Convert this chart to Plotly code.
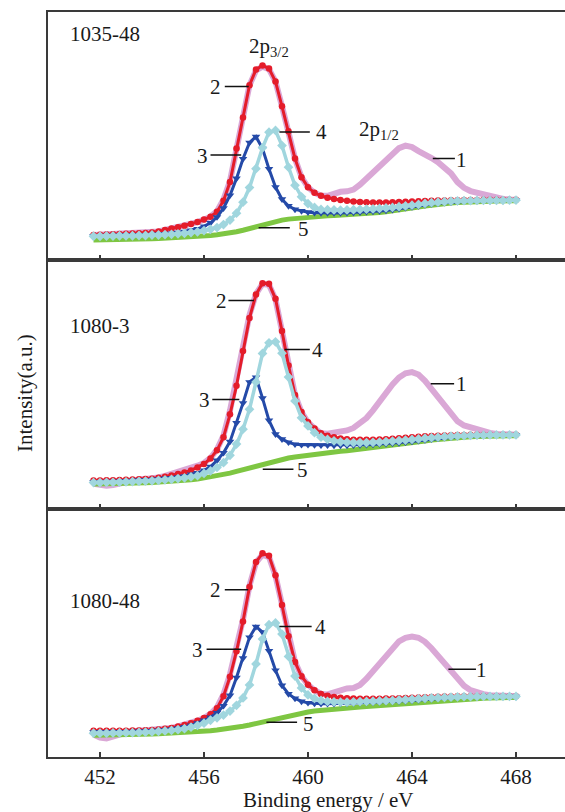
import plotly.graph_objects as go
from plotly.subplots import make_subplots

# Binding energy grid (eV)
energy = [451.75, 452.0, 452.25, 452.5, 452.75, 453.0, 453.25, 453.5, 453.75, 454.0,
          454.25, 454.5, 454.75, 455.0, 455.25, 455.5, 455.75, 456.0, 456.25, 456.5,
          456.75, 457.0, 457.25, 457.5, 457.75, 458.0, 458.25, 458.5, 458.75, 459.0,
          459.25, 459.5, 459.75, 460.0, 460.25, 460.5, 460.75, 461.0, 461.25, 461.5,
          461.75, 462.0, 462.25, 462.5, 462.75, 463.0, 463.25, 463.5, 463.75, 464.0,
          464.25, 464.5, 464.75, 465.0, 465.25, 465.5, 465.75, 466.0, 466.25, 466.5,
          466.75, 467.0, 467.25, 467.5, 467.75, 468.0]

panel_names = ["1035-48", "1080-3", "1080-48"]
tick_vals = [452, 456, 460, 464, 468]

# ---------------- sample 1035-48 ----------------
s1_curve1 = [10.2, 10.3, 10.4, 10.5, 10.6, 10.7, 10.8, 10.9, 11.0, 11.2,
             11.6, 12.2, 12.8, 13.3, 13.9, 14.6, 15.4, 16.4, 17.6, 19.8,
             24.5, 32.0, 45.5, 58.0, 70.5, 76.5, 78.0, 77.0, 72.0, 62.0,
             52.0, 41.0, 33.5, 29.4, 27.2, 26.0, 26.0, 27.0, 27.6, 27.8,
             28.5, 30.5, 33.0, 35.8, 38.5, 41.0, 43.3, 45.2, 46.2, 45.6,
             44.0, 42.8, 41.2, 39.5, 37.5, 35.0, 31.5, 29.2, 27.9, 27.2,
             26.5, 25.6, 25.0, 24.7, 24.5, 24.4]
s1_curve2 = [10.2, 10.3, 10.4, 10.5, 10.6, 10.7, 10.8, 10.9, 11.0, 11.2,
             11.6, 12.2, 12.8, 13.3, 13.9, 14.6, 15.4, 16.4, 17.6, 19.6,
             24.0, 31.5, 45.0, 57.5, 70.5, 76.8, 78.5, 77.2, 72.0, 62.0,
             52.0, 41.0, 33.5, 29.4, 27.2, 26.0, 25.2, 24.7, 24.3, 24.0,
             23.7, 23.5, 23.4, 23.3, 23.3, 23.3, 23.4, 23.5, 23.6, 23.7,
             23.8, 23.9, 24.0, 24.1, 24.1, 24.2, 24.2, 24.3, 24.3, 24.3,
             24.4, 24.4, 24.4, 24.4, 24.4, 24.4]
s1_curve3 = [9.8, 9.8, 9.9, 9.9, 10.0, 10.1, 10.1, 10.2, 10.2, 10.4,
             10.5, 10.7, 10.9, 11.2, 11.6, 12.1, 12.7, 13.7, 15.1, 17.4,
             21.0, 26.2, 33.0, 40.9, 47.4, 49.8, 45.0, 36.8, 29.5, 24.6,
             21.9, 20.5, 19.9, 19.4, 19.2, 19.1, 19.1, 19.1, 19.1, 19.2,
             19.3, 19.4, 19.6, 19.7, 19.9, 20.1, 20.4, 20.8, 21.2, 21.5,
             21.9, 22.3, 22.7, 23.0, 23.2, 23.4, 23.6, 23.7, 23.8, 23.9,
             23.9, 23.9, 24.0, 24.0, 24.1, 24.1]
s1_curve4 = [9.7, 9.7, 9.8, 9.8, 9.9, 9.9, 9.9, 10.0, 10.0, 10.2,
             10.2, 10.4, 10.5, 10.7, 10.9, 11.2, 11.5, 12.0, 12.5, 13.2,
             14.4, 16.2, 19.0, 23.4, 29.3, 36.9, 45.3, 51.6, 52.3, 46.2,
             37.5, 30.2, 25.6, 22.8, 21.3, 20.5, 20.4, 20.3, 20.2, 20.3,
             20.4, 20.5, 20.6, 20.7, 20.9, 21.1, 21.3, 21.6, 21.9, 22.2,
             22.5, 22.9, 23.2, 23.4, 23.6, 23.8, 23.9, 24.0, 24.0, 24.1,
             24.1, 24.1, 24.1, 24.1, 24.2, 24.2]
s1_curve5 = [8.2, 8.2, 8.3, 8.3, 8.4, 8.4, 8.5, 8.5, 8.6, 8.7,
             8.8, 8.9, 9.0, 9.1, 9.3, 9.4, 9.6, 9.8, 10.0, 10.3,
             10.6, 11.0, 11.5, 12.1, 12.8, 13.6, 14.4, 15.1, 15.7, 16.2,
             16.6, 16.9, 17.2, 17.4, 17.6, 17.8, 17.9, 18.1, 18.2, 18.4,
             18.5, 18.7, 18.9, 19.1, 19.3, 19.6, 19.9, 20.3, 20.7, 21.1,
             21.5, 21.9, 22.3, 22.6, 22.9, 23.1, 23.3, 23.5, 23.6, 23.7,
             23.8, 23.8, 23.9, 23.9, 24.0, 24.0]

# ---------------- sample 1080-3 ----------------
s2_curve1 = [10.0, 9.4, 9.2, 9.5, 10.2, 10.8, 11.4, 11.8, 12.0, 12.2,
             12.6, 13.2, 13.9, 14.7, 15.6, 16.4, 17.3, 18.4, 20.4, 23.8,
             29.5, 39.5, 51.5, 65.5, 78.0, 86.5, 90.5, 90.2, 84.3, 71.5,
             57.6, 45.8, 38.9, 34.8, 32.3, 30.4, 30.2, 30.5, 31.2, 31.5,
             32.5, 34.2, 36.5, 39.6, 43.2, 46.8, 50.0, 52.8, 54.5, 55.0,
             54.0, 51.5, 48.2, 44.8, 41.5, 38.2, 35.2, 33.5, 32.6, 31.8,
             31.1, 30.5, 30.1, 29.9, 29.8, 29.8]
s2_curve2 = [11.3, 11.3, 11.4, 11.4, 11.5, 11.6, 11.7, 11.8, 11.9, 12.0,
             12.4, 12.9, 13.4, 14.0, 14.6, 15.4, 16.6, 18.0, 20.2, 23.5,
             28.8, 38.0, 49.5, 63.5, 76.8, 86.2, 90.8, 90.6, 84.5, 71.5,
             57.6, 45.8, 38.9, 34.8, 32.3, 30.4, 29.4, 28.8, 28.3, 28.0,
             27.8, 27.7, 27.7, 27.8, 27.9, 28.0, 28.2, 28.4, 28.6, 28.8,
             29.0, 29.2, 29.3, 29.4, 29.5, 29.6, 29.7, 29.7, 29.8, 29.8,
             29.8, 29.8, 29.8, 29.8, 29.8, 29.8]
s2_curve3 = [10.7, 10.7, 10.9, 10.9, 11.0, 11.2, 11.3, 11.4, 11.5, 11.7,
             11.9, 12.2, 12.4, 12.7, 13.1, 13.8, 14.4, 15.4, 16.9, 19.4,
             22.5, 27.0, 34.5, 42.5, 51.0, 52.9, 44.5, 35.5, 30.0, 28.0,
             26.7, 25.9, 25.7, 25.7, 25.6, 25.5, 25.5, 25.4, 25.4, 25.4,
             25.5, 25.6, 25.7, 25.8, 26.0, 26.1, 26.3, 26.4, 26.7, 27.0,
             27.3, 27.6, 28.0, 28.3, 28.6, 28.9, 29.0, 29.2, 29.3, 29.4,
             29.5, 29.6, 29.6, 29.6, 29.6, 29.6]
s2_curve4 = [10.5, 10.5, 10.6, 10.6, 10.7, 10.8, 10.9, 11.0, 11.1, 11.2,
             11.4, 11.6, 11.8, 12.1, 12.4, 12.8, 13.3, 14.2, 15.2, 16.6,
             18.5, 21.5, 26.0, 32.0, 40.0, 51.0, 62.5, 66.8, 67.2, 62.6,
             53.0, 43.4, 36.6, 33.3, 30.6, 28.8, 27.9, 27.3, 26.9, 26.7,
             26.6, 26.6, 26.6, 26.7, 26.8, 27.0, 27.2, 27.4, 27.6, 27.9,
             28.1, 28.4, 28.6, 28.8, 29.0, 29.2, 29.3, 29.4, 29.5, 29.6,
             29.6, 29.7, 29.7, 29.7, 29.7, 29.7]
s2_curve5 = [9.9, 9.9, 10.0, 10.0, 10.1, 10.2, 10.2, 10.3, 10.4, 10.5,
             10.6, 10.8, 10.9, 11.1, 11.3, 11.6, 11.9, 12.3, 12.7, 13.2,
             13.7, 14.3, 15.0, 15.7, 16.5, 17.3, 18.1, 18.8, 19.4, 19.9,
             20.4, 20.8, 21.2, 21.6, 21.9, 22.2, 22.5, 22.8, 23.1, 23.3,
             23.6, 23.9, 24.1, 24.4, 24.7, 25.0, 25.3, 25.6, 26.0, 26.4,
             26.8, 27.2, 27.6, 27.9, 28.2, 28.5, 28.7, 28.9, 29.0, 29.1,
             29.2, 29.3, 29.3, 29.4, 29.4, 29.4]

# ---------------- sample 1080-48 ----------------
s3_curve1 = [9.0, 7.8, 7.5, 8.0, 9.0, 9.8, 10.4, 10.7, 10.8, 10.9,
             11.1, 11.4, 11.7, 12.3, 12.9, 13.6, 14.6, 15.7, 17.4, 20.0,
             25.2, 33.3, 43.6, 55.4, 69.0, 78.3, 81.5, 80.5, 73.0, 61.2,
             48.6, 38.3, 32.5, 29.1, 26.9, 25.4, 25.2, 26.0, 27.2, 27.6,
             27.8, 29.0, 31.5, 34.6, 38.0, 41.2, 44.2, 46.6, 48.0, 48.5,
             48.0, 46.4, 43.8, 40.8, 37.5, 34.5, 31.4, 28.7, 26.9, 25.9,
             25.3, 24.9, 24.7, 24.6, 24.5, 24.5]
s3_curve2 = [10.6, 10.6, 10.6, 10.6, 10.6, 10.6, 10.7, 10.7, 10.8, 10.9,
             11.1, 11.4, 11.7, 12.3, 12.9, 13.6, 14.6, 15.7, 17.2, 19.6,
             24.5, 32.3, 42.6, 54.6, 68.5, 78.5, 82.0, 81.0, 73.2, 61.2,
             48.6, 38.3, 32.5, 29.1, 26.9, 25.4, 24.7, 24.2, 23.9, 23.7,
             23.6, 23.5, 23.5, 23.5, 23.5, 23.6, 23.6, 23.7, 23.8, 23.9,
             24.0, 24.1, 24.2, 24.3, 24.4, 24.4, 24.5, 24.5, 24.5, 24.5,
             24.5, 24.5, 24.5, 24.5, 24.5, 24.5]
s3_curve3 = [10.0, 10.0, 10.0, 10.0, 10.1, 10.1, 10.2, 10.3, 10.4, 10.5,
             10.7, 10.9, 11.2, 11.6, 12.1, 12.7, 13.6, 14.7, 16.0, 17.8,
             20.6, 24.8, 32.0, 39.8, 48.2, 52.5, 50.3, 42.7, 34.9, 28.8,
             25.4, 23.6, 22.4, 21.8, 21.5, 21.4, 21.4, 21.4, 21.5, 21.6,
             21.7, 21.8, 21.9, 22.0, 22.1, 22.2, 22.3, 22.5, 22.6, 22.8,
             23.0, 23.2, 23.4, 23.6, 23.7, 23.9, 24.0, 24.1, 24.2, 24.2,
             24.3, 24.3, 24.3, 24.3, 24.3, 24.3]
s3_curve4 = [9.6, 9.6, 9.6, 9.7, 9.7, 9.8, 9.8, 9.9, 10.0, 10.1,
             10.3, 10.5, 10.7, 11.0, 11.4, 12.0, 12.7, 13.6, 14.8, 15.8,
             16.9, 18.5, 20.8, 23.8, 29.0, 37.5, 47.5, 53.3, 54.0, 49.5,
             40.5, 32.6, 27.8, 25.0, 23.6, 22.8, 22.4, 22.2, 22.1, 22.1,
             22.2, 22.3, 22.4, 22.5, 22.6, 22.7, 22.8, 23.0, 23.1, 23.3,
             23.5, 23.6, 23.8, 23.9, 24.0, 24.1, 24.2, 24.3, 24.3, 24.4,
             24.4, 24.4, 24.4, 24.4, 24.4, 24.4]
s3_curve5 = [8.8, 8.8, 8.8, 8.9, 8.9, 9.0, 9.0, 9.1, 9.2, 9.3,
             9.4, 9.5, 9.6, 9.7, 9.9, 10.0, 10.2, 10.4, 10.6, 10.9,
             11.2, 11.5, 11.9, 12.4, 12.9, 13.5, 14.1, 14.8, 15.5, 16.1,
             16.7, 17.2, 17.7, 18.1, 18.5, 18.8, 19.1, 19.3, 19.5, 19.7,
             19.9, 20.1, 20.3, 20.5, 20.7, 20.9, 21.1, 21.3, 21.6, 21.8,
             22.0, 22.3, 22.5, 22.7, 22.9, 23.1, 23.3, 23.4, 23.5, 23.6,
             23.7, 23.8, 23.9, 23.9, 24.0, 24.0]

panels = [
    [s1_curve1, s1_curve2, s1_curve3, s1_curve4, s1_curve5],
    [s2_curve1, s2_curve2, s2_curve3, s2_curve4, s2_curve5],
    [s3_curve1, s3_curve2, s3_curve3, s3_curve4, s3_curve5],
]
for p in panels:
    for c in p:
        assert len(c) == len(energy), len(c)

FONT = "Liberation Serif"
TXT = "#1a1a1a"
AXC = "#3a3a3a"
FS = 21

styles = {
    1: dict(mode="lines", line=dict(color="rgb(218,168,214)", width=6)),
    2: dict(mode="lines+markers", line=dict(color="rgb(228,28,42)", width=3),
            marker=dict(symbol="circle", size=6.5, color="rgb(228,28,42)")),
    5: dict(mode="lines", line=dict(color="rgb(126,198,66)", width=5)),
    3: dict(mode="lines+markers", line=dict(color="rgb(36,74,168)", width=3),
            marker=dict(symbol="triangle-down", size=7.5, color="rgb(36,74,168)")),
    4: dict(mode="lines+markers", line=dict(color="rgb(160,214,222)", width=3.5),
            marker=dict(symbol="diamond", size=7.5, color="rgb(160,214,222)")),
}
draw_order = [1, 2, 5, 3, 4]

fig = make_subplots(rows=3, cols=1, shared_xaxes=True, vertical_spacing=0)

for r, curves in enumerate(panels, start=1):
    for k in draw_order:
        fig.add_trace(go.Scatter(x=energy, y=curves[k - 1], showlegend=False,
                                 hoverinfo="skip", **styles[k]), row=r, col=1)

X_RANGE = [450.0, 450.0 + 517 / 26]
for r in range(1, 4):
    fig.update_xaxes(range=X_RANGE, showline=True, linecolor=AXC, linewidth=2,
                     mirror=True, ticks="inside", ticklen=5, tickwidth=1.5,
                     tickcolor=AXC, tickvals=tick_vals, showgrid=False,
                     zeroline=False, showticklabels=(r == 3),
                     tickfont=dict(family=FONT, size=FS, color=TXT),
                     row=r, col=1)
    fig.update_yaxes(range=[0, 100], showline=True, linecolor=AXC, linewidth=2,
                     mirror=False, ticks="", showticklabels=False,
                     showgrid=False, zeroline=False, row=r, col=1)

annotations = []
shapes = []

def txt(text, x, y, r, anchor="center", size=FS):
    sfx = "" if r == 1 else str(r)
    annotations.append(dict(text=text, x=x, y=y, xref="x" + sfx, yref="y" + sfx,
                            xanchor=anchor, yanchor="middle", showarrow=False,
                            font=dict(family=FONT, size=size, color=TXT)))

def lead(x0, x1, y, r):
    sfx = "" if r == 1 else str(r)
    shapes.append(dict(type="line", x0=x0, x1=x1, y0=y, y1=y,
                       xref="x" + sfx, yref="y" + sfx,
                       line=dict(color="#111111", width=1.5)))

# panel names
txt(panel_names[0], 450.75, 91.3, 1, anchor="left")
txt(panel_names[1], 450.75, 73.5, 2, anchor="left")
txt(panel_names[2], 450.75, 63.0, 3, anchor="left")

# peak labels
txt("2p<sub>3/2</sub>", 457.65, 86.0, 1, anchor="left")
txt("2p<sub>1/2</sub>", 461.9, 52.6, 1, anchor="left")

# curve number labels: (label, text x, text y, line x0, line x1, line y)
curve_labels = {
    1: [("2", 456.46, 69.8, 456.8, 457.72, 70.0),
        ("3", 455.94, 42.0, 456.25, 457.43, 42.4),
        ("4", 460.51, 51.6, 458.9, 460.07, 51.7),
        ("5", 459.82, 12.8, 458.1, 459.3, 13.1),
        ("1", 465.9, 40.6, 464.8, 465.65, 41.0)],
    2: [("2", 456.67, 83.6, 456.94, 457.92, 83.8),
        ("4", 460.37, 63.8, 459.1, 460.07, 64.1),
        ("3", 456.0, 43.8, 456.32, 457.36, 44.0),
        ("5", 459.79, 15.6, 458.26, 459.44, 15.9),
        ("1", 465.9, 50.2, 464.72, 465.62, 50.3)],
    3: [("2", 456.46, 67.2, 456.8, 457.7, 67.3),
        ("4", 460.49, 52.3, 458.9, 460.14, 52.6),
        ("3", 455.76, 43.0, 456.1, 457.43, 43.4),
        ("5", 460.0, 13.2, 458.4, 459.58, 14.0),
        ("1", 466.67, 35.2, 465.4, 466.46, 35.3)],
}
for r, items in curve_labels.items():
    for lab, tx, ty, lx0, lx1, ly in items:
        txt(lab, tx, ty, r)
        lead(lx0, lx1, ly, r)

# axis titles
annotations.append(dict(text="Binding energy / eV", x=(328 - 48) / 517,
                        y=(757 - 800) / 745, xref="paper", yref="paper",
                        xanchor="center", yanchor="middle", showarrow=False,
                        font=dict(family=FONT, size=FS, color=TXT)))
annotations.append(dict(text="Intensity(a.u.)", x=(25 - 48) / 517,
                        y=(757 - 393) / 745, xref="paper", yref="paper",
                        xanchor="center", yanchor="middle", textangle=-90,
                        showarrow=False,
                        font=dict(family=FONT, size=FS, color=TXT)))

fig.update_layout(width=565, height=812, autosize=False,
                  margin=dict(l=48, r=0, t=12, b=55),
                  paper_bgcolor="white", plot_bgcolor="white",
                  annotations=annotations, shapes=shapes, showlegend=False)

fig.write_html("out.html")
